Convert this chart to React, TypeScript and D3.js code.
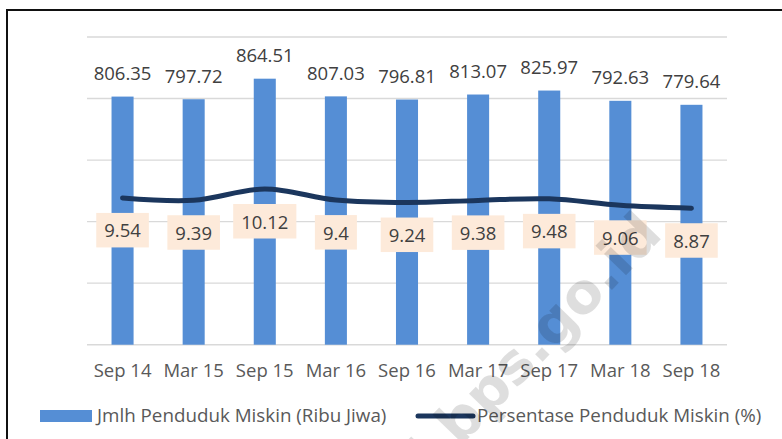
import React from "react";
import * as d3 from "d3";

const categories = ["Sep 14", "Mar 15", "Sep 15", "Mar 16", "Sep 16", "Mar 17", "Sep 17", "Mar 18", "Sep 18"];
const poorPeople = [806.35, 797.72, 864.51, 807.03, 796.81, 813.07, 825.97, 792.63, 779.64];
const poorPercent = [9.54, 9.39, 10.12, 9.4, 9.24, 9.38, 9.48, 9.06, 8.87];
const gridTicks = [0, 200, 400, 600, 800, 1000];
const legendBar = "Jmlh Penduduk Miskin (Ribu Jiwa)";
const legendLine = "Persentase Penduduk Miskin (%)";
const watermark = "sulsel.bps.go.id";

const W = 782;
const H = 439;
const FONT = "'Open Sans', sans-serif";
const FS = 18.5;

function textWidth(s: string, size: number) {
  const c = document.createElement("canvas").getContext("2d")!;
  c.font = `${size}px 'Open Sans'`;
  return c.measureText(s).width;
}

export default function App() {
  const x = d3.scaleBand<string>().domain(categories).range([87, 727]).paddingInner(0).paddingOuter(0);
  const y = d3.scaleLinear().domain([0, 1000]).range([344.7, 37]);
  const y2 = d3.scaleLinear().domain([0, 20]).range([344.7, 37]);
  const bw = x.bandwidth() * 0.31;
  const cx = (c: string) => (x(c) as number) + x.bandwidth() / 2;

  const line = d3
    .line<number>()
    .x((_, i) => cx(categories[i]))
    .y((d) => y2(d))
    .curve(d3.curveCatmullRom.alpha(0.5));

  return (
    <svg width={W} height={H} style={{ position: "absolute", left: 0, top: 0, background: "#fff" }} fontFamily={FONT}>
      <rect x={0} y={0} width={W} height={H} fill="#fff" />
      <rect x={7} y={10} width={W + 20} height={H + 20} fill="none" stroke="#111" strokeWidth={2} />
      {gridTicks.map((t) => (
        <line key={t} x1={87} x2={727} y1={y(t)} y2={y(t)} stroke="#D9D9D9" strokeWidth={1.4} />
      ))}
      {poorPeople.map((v, i) => (
        <rect
          key={categories[i]}
          x={cx(categories[i]) - bw / 2}
          y={y(v)}
          width={bw}
          height={y(0) - y(v)}
          fill="#558ED5"
        />
      ))}
      {poorPeople.map((v, i) => (
        <text key={"v" + i} x={cx(categories[i])} y={y(v) - 16.5} textAnchor="middle" fontSize={FS} fill="#404040">
          {v.toFixed(2)}
        </text>
      ))}
      <path d={line(poorPercent) || ""} fill="none" stroke="#1B365D" strokeWidth={5} strokeLinecap="round" strokeLinejoin="round" />
      {poorPercent.map((v, i) => {
        const s = String(v);
        const tw = textWidth(s, FS);
        const py = y2(v);
        return (
          <g key={"p" + i}>
            <rect x={cx(categories[i]) - tw / 2 - 8} y={py + 15} width={tw + 16} height={34.5} fill="#FDEADA" />
            <text x={cx(categories[i])} y={py + 39.5} textAnchor="middle" fontSize={FS} fill="#404040">
              {s}
            </text>
          </g>
        );
      })}
      {categories.map((c) => (
        <text key={"x" + c} x={cx(c)} y={377} textAnchor="middle" fontSize={FS} fill="#595959">
          {c}
        </text>
      ))}
      <rect x={40} y={410} width={52} height={12} fill="#558ED5" />
      <text x={97} y={421.7} fontSize={18.8} fill="#595959">
        {legendBar}
      </text>
      <line x1={418} x2={473} y1={416} y2={416} stroke="#1B365D" strokeWidth={5} strokeLinecap="round" />
      <text x={477} y={421.7} fontSize={18.8} fill="#595959">
        {legendLine}
      </text>
      <text
        x={0}
        y={0}
        transform="translate(664,236) rotate(-46)"
        textAnchor="end"
        fontSize={56}
        fontWeight="bold"
        fontFamily="'DejaVu Sans', sans-serif"
        fill="#000"
        fillOpacity={0.13}
      >
        {watermark}
      </text>
    </svg>
  );
}
